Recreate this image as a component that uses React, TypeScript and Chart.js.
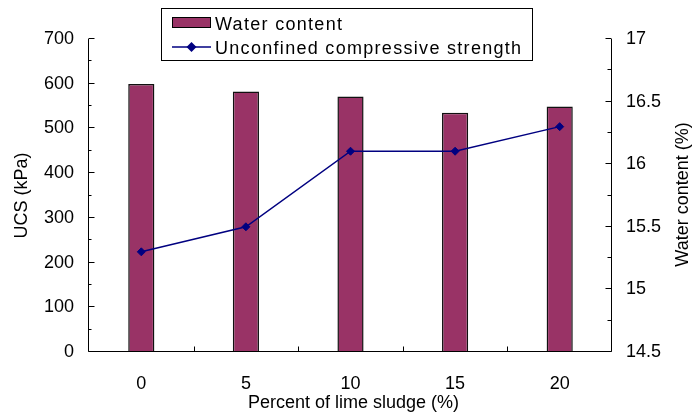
import React, { useEffect, useRef } from "react";
import { Chart, registerables } from "chart.js";

Chart.register(...registerables);

// ---- data ----
const categories = ["0", "5", "10", "15", "20"];
const waterContent = [16.64, 16.58, 16.54, 16.41, 16.46]; // %
const ucs = [224, 280, 449, 449, 504]; // kPa

const leftMin = 0;
const leftMax = 700;
const leftStep = 100;
const rightMin = 14.5;
const rightMax = 17;
const rightStep = 0.5;

const xTitle = "Percent of lime sludge (%)";
const leftTitle = "UCS (kPa)";
const rightTitle = "Water content (%)";
const legendLabels = ["Water content", "Unconfined compressive strength"];

const FONT = "'Liberation Sans', Arial, sans-serif";
const BAR_COLOR = "#993366";
const LINE_COLOR = "#000080";

const framePlugin = {
  id: "frame",
  afterDatasetsDraw(chart: any) {
    const { ctx, chartArea, scales } = chart;
    const { left, right, top, bottom } = chartArea;
    const L = Math.round(left) - 0.5;
    const R = Math.round(right) - 0.5;
    const B = Math.round(bottom) - 0.5;
    const T = Math.round(top);
    ctx.save();
    ctx.strokeStyle = "#000";
    ctx.lineWidth = 1;
    ctx.beginPath();
    ctx.moveTo(L, T);
    ctx.lineTo(L, B);
    ctx.lineTo(R, B);
    ctx.lineTo(R, T);
    // left ticks (inward)
    for (let v = leftMin; v <= leftMax + 1e-9; v += leftStep / 2) {
      const y = Math.round(scales.y.getPixelForValue(v)) - 0.5;
      const major = Math.abs(v / leftStep - Math.round(v / leftStep)) < 1e-6;
      ctx.moveTo(L, y);
      ctx.lineTo(L + (major ? 6 : 3), y);
    }
    // right ticks (inward)
    for (let v = rightMin; v <= rightMax + 1e-9; v += rightStep / 2) {
      const y = Math.round(scales.y1.getPixelForValue(v)) - 0.5;
      const k = (v - rightMin) / rightStep;
      const major = Math.abs(k - Math.round(k)) < 1e-6;
      ctx.moveTo(R, y);
      ctx.lineTo(R - (major ? 6 : 4), y);
    }
    // x ticks at category boundaries (inward)
    for (let i = 1; i < categories.length; i++) {
      const x =
        Math.round(
          (scales.x.getPixelForValue(i - 1) + scales.x.getPixelForValue(i)) / 2
        ) + 0.5;
      ctx.moveTo(x, B);
      ctx.lineTo(x, B - 5);
    }
    ctx.stroke();
    ctx.restore();
  },
  afterDraw(chart: any) {
    const { ctx, chartArea } = chart;
    const { left, right, top, bottom } = chartArea;
    const midY = (top + bottom) / 2;
    ctx.save();
    ctx.fillStyle = "#000";
    ctx.font = `18px ${FONT}`;
    ctx.textAlign = "center";
    ctx.textBaseline = "middle";
    // x title
    ctx.fillText(xTitle, (left + right) / 2 + 3, bottom + 51);
    // left title
    ctx.save();
    ctx.translate(22, midY);
    ctx.rotate(-Math.PI / 2);
    ctx.fillText(leftTitle, 0, 0);
    ctx.restore();
    // right title
    ctx.save();
    ctx.translate(683, midY - 1);
    ctx.rotate(-Math.PI / 2);
    ctx.fillText(rightTitle, 0, 0);
    ctx.restore();

    // legend
    const bx = 161.5, by = 8.5, bw = 371, bh = 52;
    ctx.fillStyle = "#fff";
    ctx.fillRect(bx, by, bw, bh);
    ctx.strokeStyle = "#000";
    ctx.lineWidth = 1;
    ctx.strokeRect(bx, by, bw, bh);
    // swatch
    ctx.fillStyle = BAR_COLOR;
    ctx.fillRect(172.5, 17.5, 38, 10);
    ctx.strokeRect(172.5, 17.5, 38, 10);
    // line sample
    ctx.strokeStyle = LINE_COLOR;
    ctx.lineWidth = 1.5;
    ctx.beginPath();
    ctx.moveTo(172, 47);
    ctx.lineTo(211, 47);
    ctx.stroke();
    ctx.fillStyle = LINE_COLOR;
    ctx.beginPath();
    ctx.moveTo(191.5, 42);
    ctx.lineTo(196.5, 47);
    ctx.lineTo(191.5, 52);
    ctx.lineTo(186.5, 47);
    ctx.closePath();
    ctx.fill();
    // texts
    ctx.fillStyle = "#000";
    ctx.textAlign = "left";
    (ctx as any).letterSpacing = "1.3px";
    ctx.fillText(legendLabels[0], 215, 25);
    ctx.fillText(legendLabels[1], 215, 49);
    (ctx as any).letterSpacing = "0px";
    ctx.restore();
  },
};

export default function App() {
  const ref = useRef<HTMLCanvasElement>(null);

  useEffect(() => {
    if (!ref.current) return;
    const chart = new Chart(ref.current, {
      type: "bar",
      data: {
        labels: categories,
        datasets: [
          {
            type: "line",
            label: legendLabels[1],
            data: ucs,
            yAxisID: "y",
            borderColor: LINE_COLOR,
            backgroundColor: LINE_COLOR,
            borderWidth: 1.5,
            pointStyle: "rectRot",
            pointRadius: 4,
            pointBorderWidth: 1,
            pointBackgroundColor: LINE_COLOR,
            pointBorderColor: LINE_COLOR,
            tension: 0,
            order: 0,
          } as any,
          {
            type: "bar",
            label: legendLabels[0],
            data: waterContent,
            yAxisID: "y1",
            backgroundColor: BAR_COLOR,
            borderColor: "#111",
            borderWidth: 1.5,
            borderSkipped: false,
            categoryPercentage: 1,
            barPercentage: 0.25,
            order: 1,
          } as any,
        ],
      },
      options: {
        responsive: false,
        animation: false,
        devicePixelRatio: 1,
        layout: { padding: { top: 39, left: 0, right: 0, bottom: 0 } },
        plugins: {
          legend: { display: false },
          tooltip: { enabled: false },
          title: { display: false },
        },
        scales: {
          x: {
            type: "category",
            offset: true,
            grid: { display: false, drawTicks: false },
            border: { display: false },
            ticks: {
              color: "#000",
              font: { family: FONT, size: 18 },
              padding: 21,
              maxRotation: 0,
            },
            afterFit: (s: any) => {
              s.height = 66;
            },
          },
          y: {
            type: "linear",
            position: "left",
            min: leftMin,
            max: leftMax,
            grid: { display: false, drawTicks: false },
            border: { display: false },
            ticks: {
              stepSize: leftStep,
              color: "#000",
              font: { family: FONT, size: 18 },
              padding: 15,
            },
            afterFit: (s: any) => {
              s.width = 89;
            },
          },
          y1: {
            type: "linear",
            position: "right",
            min: rightMin,
            max: rightMax,
            grid: { display: false, drawTicks: false },
            border: { display: false },
            ticks: {
              stepSize: rightStep,
              color: "#000",
              font: { family: FONT, size: 18 },
              padding: 14,
              callback: (v: any) => String(Number(v)),
            },
            afterFit: (s: any) => {
              s.width = 80;
            },
          },
        },
      },
      plugins: [framePlugin],
    });
    return () => chart.destroy();
  }, []);

  return (
    <div
      style={{
        position: "fixed",
        left: 0,
        top: 0,
        width: 692,
        height: 418,
        background: "#fff",
      }}
    >
      <canvas ref={ref} width={692} height={418} />
    </div>
  );
}
